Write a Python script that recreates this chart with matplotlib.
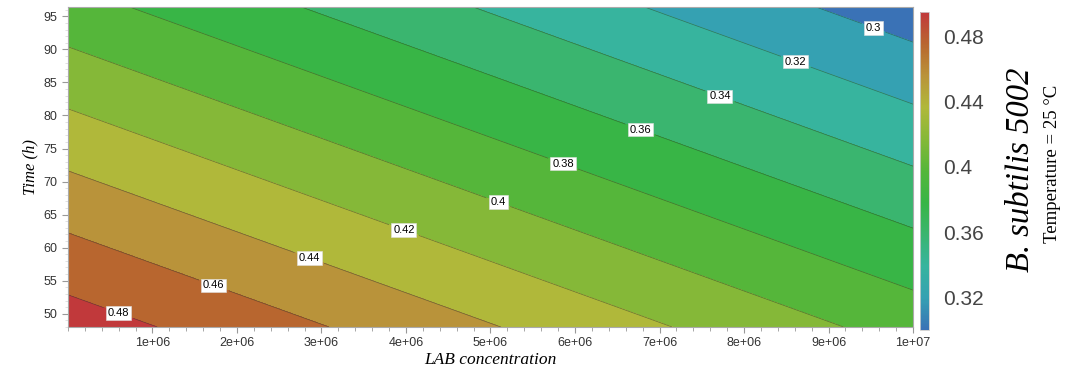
import matplotlib
matplotlib.use("Agg")
import matplotlib.pyplot as plt
import numpy as np
from matplotlib.colors import LinearSegmentedColormap, Normalize
from matplotlib.ticker import FixedLocator, MultipleLocator

plt.rcParams['font.family'] = ['Liberation Sans', 'DejaVu Sans']

# growth response surface, values on a coarse grid
lab_conc = [0.0, 5e6, 1e7]
time_h = [48.0, 72.0, 96.4]
response = [
    [0.4904, 0.4412, 0.3919],
    [0.4392, 0.3900, 0.3407],
    [0.3872, 0.3380, 0.2887],
]

levels = [0.30, 0.32, 0.34, 0.36, 0.38, 0.40, 0.42, 0.44, 0.46, 0.48]
band_colors = ['#3A72B6', '#35A1B2', '#37B49E', '#3AB56F', '#38B546', '#55B63A',
               '#85B838', '#B0B83A', '#B9933A', '#B8662F', '#C1393B']
label_pos = [(0.60e6, 50.2), (1.73e6, 54.4), (2.86e6, 58.6), (3.98e6, 62.8),
             (5.10e6, 67.1), (5.86e6, 72.8), (6.78e6, 78.1), (7.72e6, 83.1),
             (8.62e6, 88.4), (9.54e6, 93.5)]
cbar_ticks = [0.32, 0.36, 0.40, 0.44, 0.48]

X, Y = np.meshgrid(lab_conc, time_h)
Z = np.array(response)
zmin, zmax = Z.min(), Z.max()

fig = plt.figure(figsize=(10.65, 3.72), dpi=100)
ax = fig.add_axes([0.0638, 0.121, 0.7935, 0.860])

fill_levels = [zmin] + levels + [zmax]
ax.contourf(X, Y, Z, levels=fill_levels, colors=band_colors)
cs = ax.contour(X, Y, Z, levels=levels, colors='#2a3a2a', linewidths=0.5, alpha=0.55)
labels = ax.clabel(cs, fmt=lambda v: f'{v:g}', fontsize=8, inline=True,
                   manual=label_pos, colors='black')
for t in labels:
    t.set_rotation(0)
    t.set_alpha(1)
    t.set_color('black')
    t.set_bbox(dict(facecolor='white', edgecolor='#e0e0e0', pad=1.3, linewidth=0.4))

ax.set_xlim(0, 1e7)
ax.set_ylim(48, 96.4)
xt = [1e6 * i for i in range(1, 11)]
ax.xaxis.set_major_locator(FixedLocator(xt))
ax.set_xticklabels([f'{v:.0e}' for v in xt])
ax.xaxis.set_minor_locator(MultipleLocator(2e5))
ax.yaxis.set_major_locator(FixedLocator([50, 55, 60, 65, 70, 75, 80, 85, 90, 95]))
ax.yaxis.set_minor_locator(MultipleLocator(1))
ax.tick_params(which='major', length=4, colors='#999999', labelcolor='#333333',
               labelsize=9)
ax.tick_params(axis='x', which='minor', length=3, colors='#999999')
ax.tick_params(axis='y', which='minor', length=2, colors='#dddddd')
for s in ax.spines.values():
    s.set_color('#aaaaaa')
    s.set_linewidth(0.8)

ax.set_xlabel('LAB concentration', family='Liberation Serif', style='italic',
              fontsize=12.5, labelpad=2)
ax.set_ylabel('Time (h)', family='Liberation Serif', style='italic',
              fontsize=12, labelpad=4)

# continuous colour scale alongside
cmap = LinearSegmentedColormap.from_list('growth', band_colors)
sm = plt.cm.ScalarMappable(norm=Normalize(vmin=0.30, vmax=0.495), cmap=cmap)
cax = fig.add_axes([0.864, 0.113, 0.0085, 0.855])
cb = fig.colorbar(sm, cax=cax, ticks=cbar_ticks)
cb.ax.set_yticklabels([f'{v:g}' for v in cbar_ticks])
cb.ax.tick_params(length=0, pad=10, labelsize=15, labelcolor='#444444')
cb.outline.set_edgecolor('#cccccc')
cb.outline.set_linewidth(0.6)

fig.text(0.958, 0.545, 'B. subtilis 5002', rotation=90, ha='center', va='center',
         family='Liberation Serif', style='italic', fontsize=23.5)
fig.text(0.988, 0.56, 'Temperature = 25 °C', rotation=90, ha='center', va='center',
         family='Liberation Serif', fontsize=13.5)

fig.savefig('out.png', dpi=100)
